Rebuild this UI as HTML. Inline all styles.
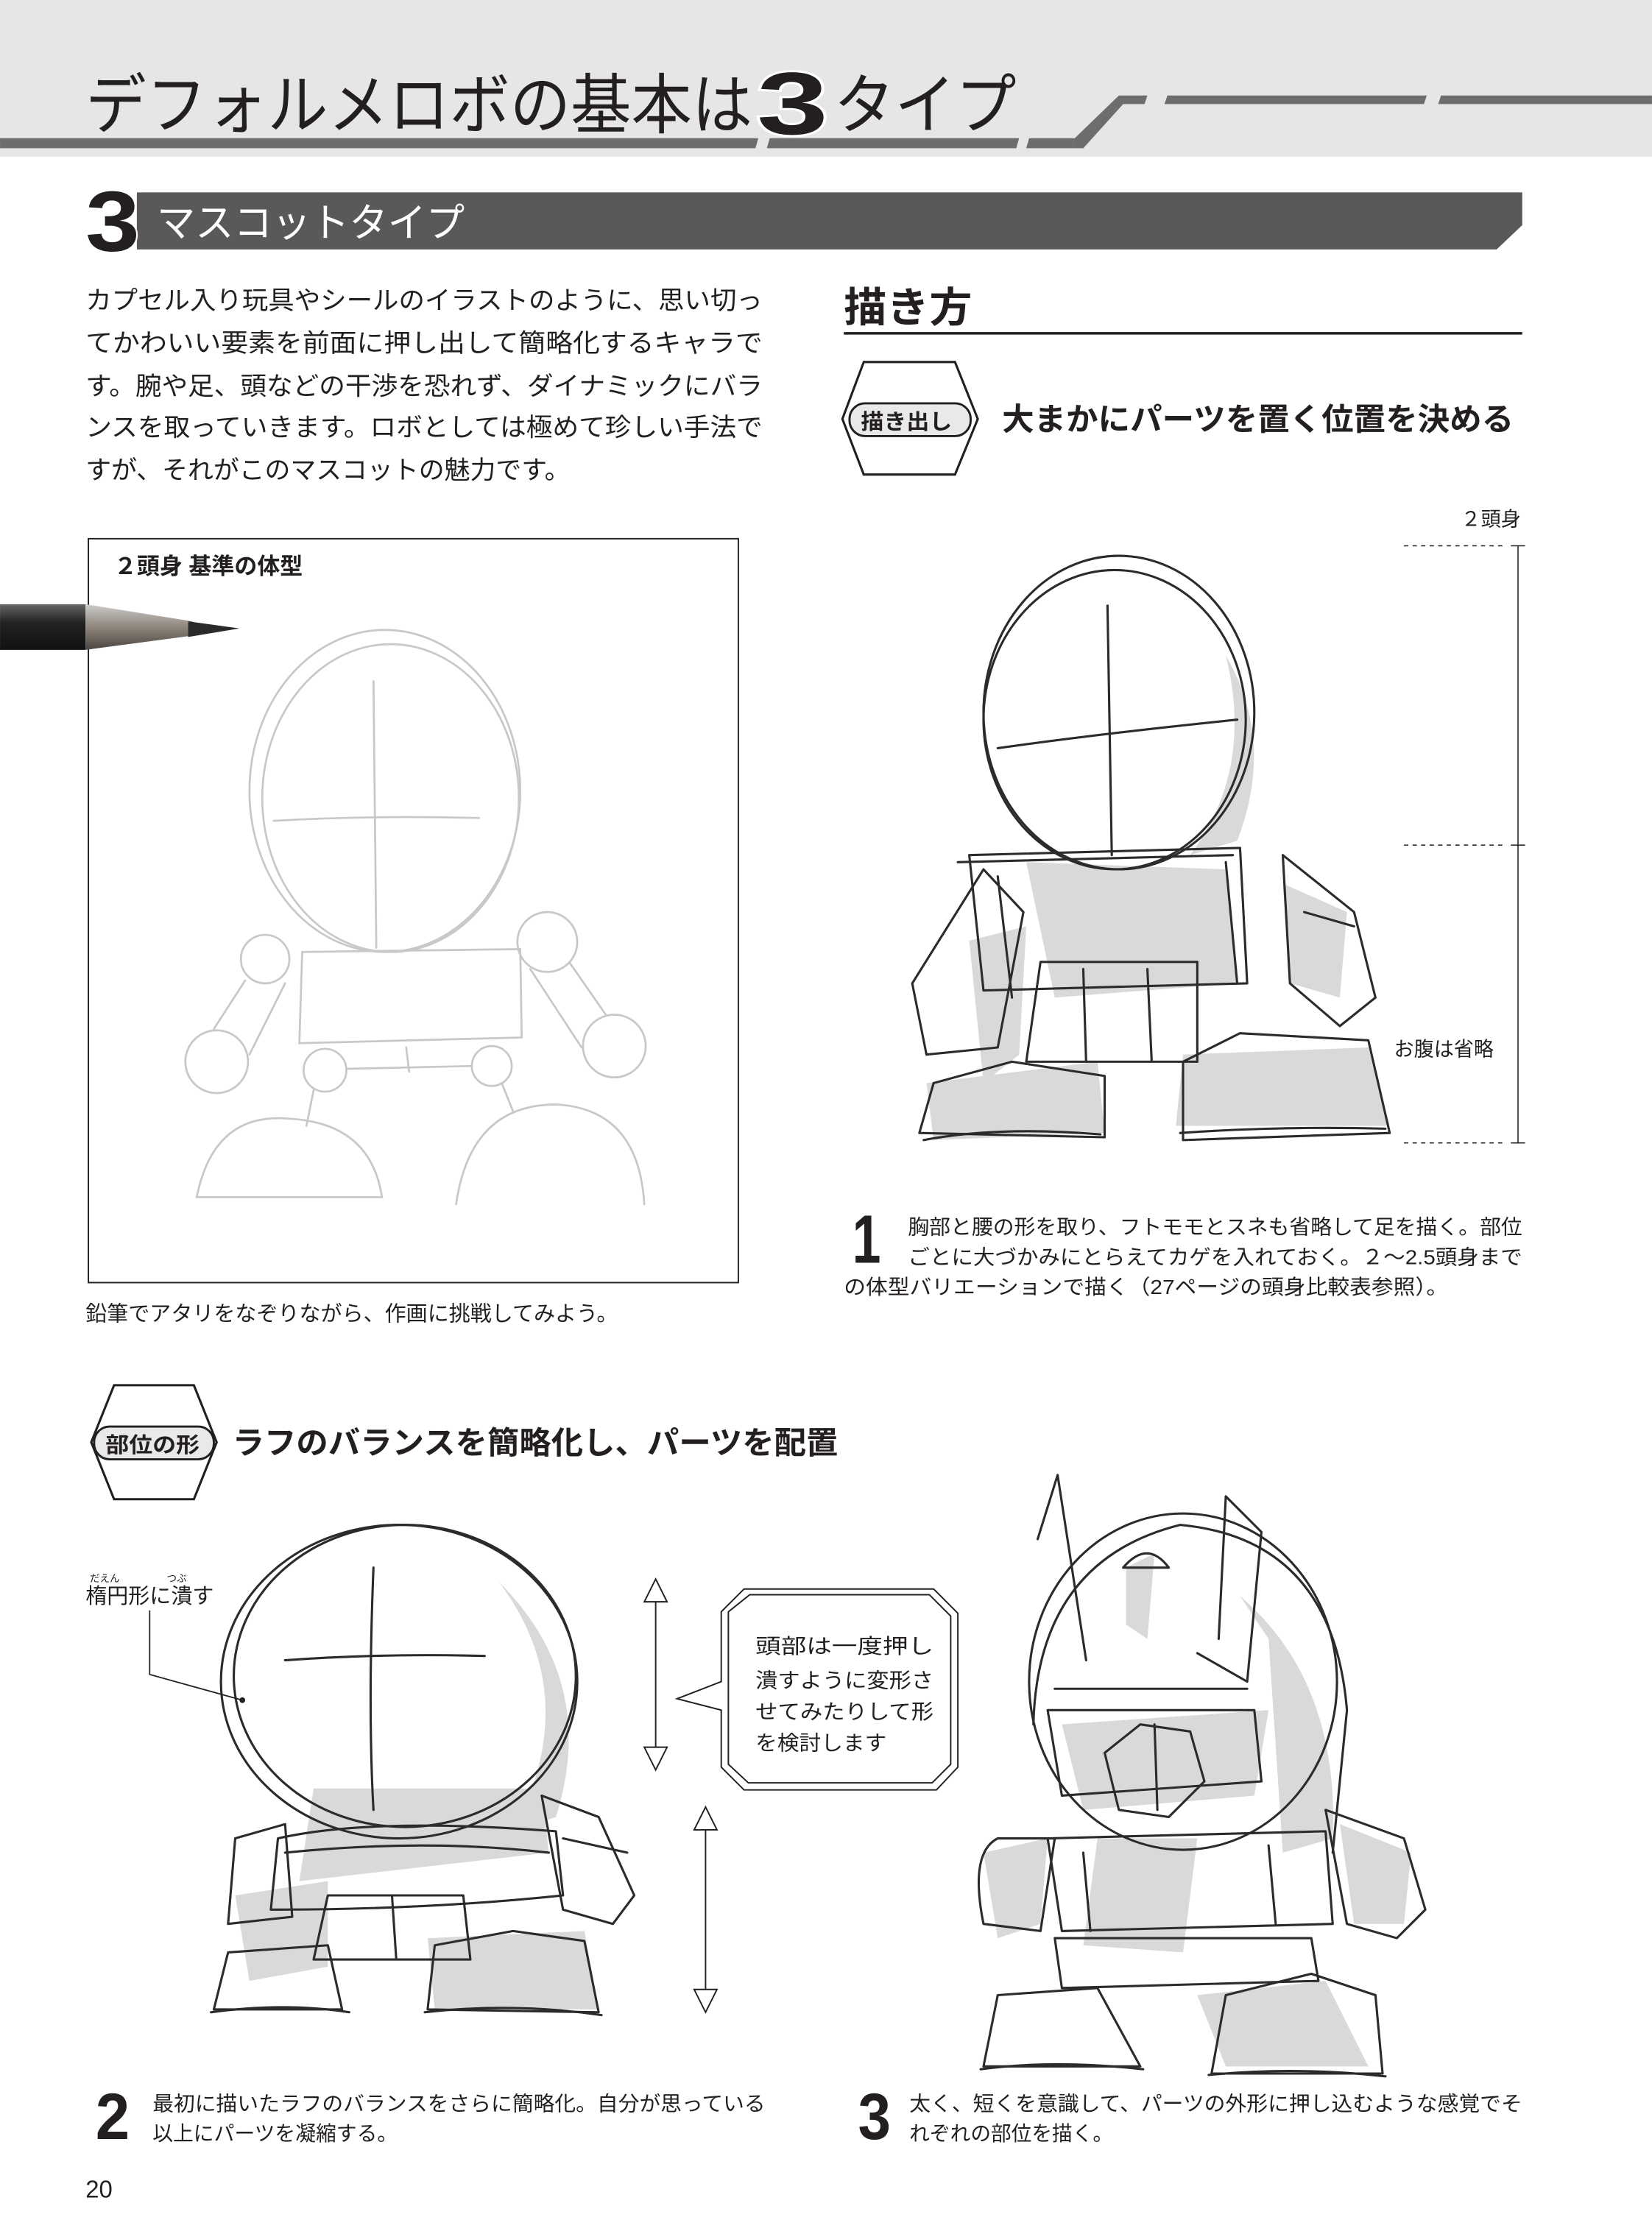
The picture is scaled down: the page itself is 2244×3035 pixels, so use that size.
<!DOCTYPE html>
<html><head><meta charset="utf-8"><style>
html,body{margin:0;padding:0;background:#fff;}
svg{display:block;}
text{font-family:"Liberation Sans","Noto Sans CJK JP",sans-serif;fill:#231f20;}
.sk{fill:none;stroke:#2b2b2b;stroke-width:1.6;stroke-linecap:round;stroke-linejoin:round;}
.lt{fill:none;stroke:#c8c8c8;stroke-width:1.4;stroke-linecap:round;}
.gr{fill:#d9d9d9;stroke:none;}
</style></head><body>
<svg width="2244" height="3035" viewBox="0 0 1159 1567.6" xmlns="http://www.w3.org/2000/svg">
<defs>
<linearGradient id="pb" x1="0" y1="0" x2="0" y2="1"><stop offset="0" stop-color="#666"/><stop offset="0.4" stop-color="#222"/><stop offset="1" stop-color="#111"/></linearGradient>
<linearGradient id="pw" x1="0" y1="0" x2="0" y2="1"><stop offset="0" stop-color="#ccc"/><stop offset="0.5" stop-color="#8f867c"/><stop offset="1" stop-color="#4a4440"/></linearGradient>
</defs>
<!-- header -->
<rect x="0" y="0" width="1159" height="110" fill="#e6e6e7"/>
<polygon points="0,97 532,97 530,104 0,104" fill="#6d6d6d"/>
<polygon points="540,97 715,97 713,104 538,104" fill="#6d6d6d"/>
<polygon points="722,97 754,97 752,104 720,104" fill="#6d6d6d"/>
<polygon points="754,97 785,67 805,67 803,73 788,73 760,104 752,104" fill="#6d6d6d"/>
<polygon points="819,67 1001,67 999,73 817,73" fill="#6d6d6d"/>
<polygon points="1011,67 1159,67 1159,73 1009,73" fill="#6d6d6d"/>
<text x="60" y="90" font-size="46" textLength="468" lengthAdjust="spacingAndGlyphs">デフォルメロボの基本は</text>
<text x="531" y="94" font-size="62" font-weight="bold" textLength="50" lengthAdjust="spacingAndGlyphs" stroke="#fff" stroke-width="3" paint-order="stroke">3</text>
<text x="585" y="90" font-size="46" textLength="128" lengthAdjust="spacingAndGlyphs">タイプ</text>
<!-- section bar -->
<polygon points="96,135 1068,135 1068,158 1050,175 96,175" fill="#5a5858"/>
<text x="60" y="176" font-size="60" font-weight="bold" textLength="38" lengthAdjust="spacingAndGlyphs" stroke="#fff" stroke-width="2" paint-order="stroke">3</text>
<text x="110" y="166" font-size="28" style="fill:#fff" textLength="216" lengthAdjust="spacingAndGlyphs">マスコットタイプ</text>
<!-- paragraph -->
<g font-size="18">
<text x="60" y="217" textLength="475" lengthAdjust="spacingAndGlyphs">カプセル入り玩具やシールのイラストのように、思い切っ</text>
<text x="60" y="247" textLength="475" lengthAdjust="spacingAndGlyphs">てかわいい要素を前面に押し出して簡略化するキャラで</text>
<text x="60" y="277" textLength="475" lengthAdjust="spacingAndGlyphs">す。腕や足、頭などの干渉を恐れず、ダイナミックにバラ</text>
<text x="60" y="306" textLength="475" lengthAdjust="spacingAndGlyphs">ンスを取っていきます。ロボとしては極めて珍しい手法で</text>
<text x="60" y="336" textLength="340" lengthAdjust="spacingAndGlyphs">すが、それがこのマスコットの魅力です。</text>
</g>
<!-- 描き方 -->
<text x="592" y="226" font-size="29" font-weight="bold" textLength="90" lengthAdjust="spacingAndGlyphs">描き方</text>
<rect x="592" y="233" width="476" height="1.8" fill="#231f20"/>
<!-- hex badge 1 -->
<polygon points="606,254 670,254 686,294 670,333 606,333 591,294" fill="#fff" stroke="#231f20" stroke-width="1.6"/>
<rect x="596" y="283" width="85" height="23" rx="11" fill="#e9e9e9" stroke="#231f20" stroke-width="1.5"/>
<text x="604" y="301" font-size="15" font-weight="bold" textLength="64" lengthAdjust="spacingAndGlyphs">描き出し</text>
<text x="703" y="302" font-size="22" font-weight="bold" textLength="359" lengthAdjust="spacingAndGlyphs">大まかにパーツを置く位置を決める</text>
<!-- box -->
<rect x="62" y="378" width="456" height="522" fill="none" stroke="#231f20" stroke-width="1"/>
<text x="80" y="403" font-size="16" font-weight="bold">２頭身 基準の体型</text>
<!-- pencil -->
<polygon points="0,424 60,424 60,456 0,456" fill="url(#pb)"/>
<polygon points="60,424 135,436 135,446 60,456" fill="url(#pw)"/>
<polygon points="132,436 168,441 132,447" fill="#2a2a2a"/>
<!-- light sketch -->
<g class="lt">
<ellipse cx="270" cy="555" rx="95" ry="113"/>
<ellipse cx="274" cy="560" rx="90" ry="108"/>
<path d="M262 478 L264 665 M192 576 Q260 572 336 574"/>
<circle cx="186" cy="673" r="17"/><circle cx="384" cy="661" r="21"/>
<path d="M212 668 L365 666 L366 728 L210 732 Z"/>
<circle cx="152" cy="745" r="22"/><circle cx="431" cy="734" r="22"/>
<path d="M172 688 L150 722 M200 690 L175 740 M400 676 L425 712 M372 680 L408 735"/>
<circle cx="228" cy="751" r="15"/><circle cx="345" cy="748" r="14"/>
<path d="M243 750 L331 748 M285 735 L287 752"/>
<path d="M138 840 Q150 780 203 785 Q260 788 268 840 Z"/>
<path d="M320 845 Q330 775 390 775 Q448 778 452 845"/>
<path d="M220 765 L215 790 M352 760 L360 780"/>
</g>
<text x="60" y="927" font-size="15">鉛筆でアタリをなぞりながら、作画に挑戦してみよう。</text>
<!-- robot 1 -->
<g>
<path class="gr" d="M860 460 Q895 520 868 590 L835 600 Q880 540 860 460 Z"/>
<path class="gr" d="M720 605 L860 610 L868 690 L740 700 Z"/>
<path class="gr" d="M680 660 L720 650 L715 740 L690 760 Z"/>
<path class="gr" d="M650 760 L770 745 L775 795 L655 800 Z"/>
<path class="gr" d="M830 740 L960 735 L975 790 L825 790 Z"/>
<path class="gr" d="M900 620 L945 640 L940 700 L905 690 Z"/>
<g class="sk">
<ellipse cx="785" cy="500" rx="95" ry="110"/>
<ellipse cx="782" cy="505" rx="92" ry="105"/>
<path d="M777 425 L780 600 M700 525 Q770 515 868 505"/>
<path d="M680 600 L870 595 L875 690 L690 695 Z M672 605 L865 600 M700 615 L710 700 M860 605 L868 690"/>
<path d="M690 610 L640 690 L650 740 L700 735 L718 640 Z"/>
<path d="M900 600 L950 640 L965 700 L940 720 L905 690 Z M915 640 L950 650"/>
<path d="M730 675 L840 675 L840 745 L720 745 Z M760 680 L762 745 M805 680 L808 745"/>
<path d="M645 795 L655 760 L710 745 L775 755 L775 798 Z"/>
<path d="M830 800 L830 745 L870 725 L960 730 L975 795 Z"/>
<path d="M648 800 Q700 790 772 796 M828 795 Q900 790 972 792"/>
</g>
</g>
<g stroke="#231f20" stroke-width="0.8" fill="none">
<path d="M985 383 L1055 383 M985 593 L1055 593 M985 802 L1055 802" stroke-dasharray="3,3"/>
<path d="M1065 383 L1065 802 M1060 383 L1070 383 M1060 593 L1070 593 M1060 802 L1070 802"/>
</g>
<text x="1025" y="369" font-size="14">２頭身</text>
<text x="978" y="741" font-size="14">お腹は省略</text>
<!-- step 1 -->
<text x="598" y="886" font-size="48" font-weight="bold" textLength="20" lengthAdjust="spacingAndGlyphs">1</text>
<g font-size="14.5">
<text x="637" y="866" textLength="431" lengthAdjust="spacingAndGlyphs">胸部と腰の形を取り、フトモモとスネも省略して足を描く。部位</text>
<text x="637" y="887" textLength="431" lengthAdjust="spacingAndGlyphs">ごとに大づかみにとらえてカゲを入れておく。２～2.5頭身まで</text>
<text x="592" y="908" textLength="424" lengthAdjust="spacingAndGlyphs">の体型バリエーションで描く（27ページの頭身比較表参照）。</text>
</g>
<!-- hex badge 2 -->
<polygon points="80,972 136,972 152,1012 136,1052 80,1052 64,1012" fill="#fff" stroke="#231f20" stroke-width="1.6"/>
<rect x="66" y="1001" width="84" height="23" rx="11" fill="#e9e9e9" stroke="#231f20" stroke-width="1.5"/>
<text x="74" y="1019" font-size="15" font-weight="bold" textLength="66" lengthAdjust="spacingAndGlyphs">部位の形</text>
<text x="163" y="1020" font-size="22" font-weight="bold" textLength="425" lengthAdjust="spacingAndGlyphs">ラフのバランスを簡略化し、パーツを配置</text>
<!-- robot 2 -->
<g>
<path class="gr" d="M350 1110 Q420 1180 390 1275 L360 1285 Q410 1190 350 1110 Z"/>
<path class="gr" d="M220 1255 L380 1255 L385 1300 L210 1320 Z"/>
<path class="gr" d="M165 1330 L230 1320 L230 1380 L175 1390 Z"/>
<path class="gr" d="M300 1360 L410 1355 L420 1410 L305 1410 Z"/>
<g class="sk">
<ellipse cx="280" cy="1180" rx="125" ry="110"/>
<ellipse cx="284" cy="1176" rx="120" ry="106"/>
<path d="M262 1100 Q258 1200 262 1270 M200 1165 Q270 1160 340 1162"/>
<path d="M195 1290 Q260 1275 390 1285 L395 1330 Q300 1340 190 1340 Z M200 1300 Q300 1290 385 1300"/>
<path d="M165 1290 L200 1280 L205 1345 L160 1350 Z"/>
<path d="M380 1260 L420 1275 L445 1330 L430 1350 L395 1340 Z M395 1290 L440 1300"/>
<path d="M230 1330 L325 1330 L330 1375 L220 1375 Z M275 1330 L278 1375"/>
<path d="M150 1410 L160 1370 L230 1365 L240 1410 Z"/>
<path d="M300 1410 L305 1365 L360 1355 L410 1362 L420 1412 Z"/>
<path d="M148 1412 Q200 1405 245 1412 M298 1412 Q360 1405 422 1414"/>
</g>
</g>
<path d="M105 1130 L105 1175 L170 1193" fill="none" stroke="#231f20" stroke-width="0.9"/>
<circle cx="170" cy="1193" r="2" fill="#231f20"/>
<text x="60" y="1125" font-size="15">楕円形に潰す</text>
<text x="63" y="1110" font-size="7">だえん</text><text x="117" y="1110" font-size="7">つぶ</text>
<!-- arrows -->
<g fill="#fff" stroke="#231f20" stroke-width="1">
<path d="M460 1118 L460 1232" fill="none"/>
<polygon points="460,1108 452,1124 468,1124"/><polygon points="460,1242 452,1226 468,1226"/>
<path d="M495 1278 L495 1402" fill="none"/>
<polygon points="495,1268 487,1284 503,1284"/><polygon points="495,1412 487,1396 503,1396"/>
</g>
<!-- speech box -->
<g fill="#fff" stroke="#231f20" stroke-width="1">
<path d="M522 1115 L655 1115 L672 1132 L672 1240 L657 1256 L522 1256 L506 1240 L506 1200 L475 1192 L506 1180 L506 1131 Z"/>
<path d="M526 1119 L652 1119 L667 1134 L667 1238 L654 1251 L525 1251 L511 1238 L511 1131 Z" fill="none"/>
</g>
<g font-size="14.5">
<text x="530" y="1160" textLength="125" lengthAdjust="spacingAndGlyphs">頭部は一度押し</text>
<text x="530" y="1184" textLength="125" lengthAdjust="spacingAndGlyphs">潰すように変形さ</text>
<text x="530" y="1206" textLength="125" lengthAdjust="spacingAndGlyphs">せてみたりして形</text>
<text x="530" y="1228" textLength="92" lengthAdjust="spacingAndGlyphs">を検討します</text>
</g>
<!-- robot 3 -->
<g>
<path class="gr" d="M870 1120 Q940 1180 935 1290 L900 1300 L890 1150 Z"/>
<path class="gr" d="M790 1100 L810 1090 L805 1150 L790 1140 Z"/>
<path class="gr" d="M745 1210 L890 1200 L880 1260 L760 1270 Z"/>
<path class="gr" d="M770 1290 L840 1290 L830 1370 L760 1365 Z"/>
<path class="gr" d="M940 1280 L990 1300 L985 1350 L950 1350 Z"/>
<path class="gr" d="M840 1400 L930 1390 L960 1450 L860 1450 Z"/>
<path class="gr" d="M690 1300 L735 1290 L730 1350 L700 1360 Z"/>
<g class="sk">
<ellipse cx="830" cy="1180" rx="108" ry="118"/>
<path d="M725 1210 Q728 1095 828 1070 Q935 1080 945 1200 L935 1300"/>
<path d="M728 1080 L742 1035 L762 1165 M788 1100 Q805 1080 820 1100 Z"/>
<path d="M860 1050 L885 1075 L875 1180 L840 1160 M860 1050 L855 1150"/>
<path d="M735 1200 L880 1200 L885 1250 L745 1260 Z M740 1185 L875 1185"/>
<path d="M775 1230 L800 1210 L835 1215 L845 1250 L820 1275 L785 1270 Z M810 1210 L812 1270"/>
<path d="M700 1290 Q680 1300 690 1350 L730 1355 L740 1290 Z"/>
<path d="M930 1270 L985 1290 L1000 1340 L980 1360 L945 1350 Z"/>
<path d="M735 1290 L930 1285 L935 1350 L745 1355 Z M760 1300 L765 1355 M890 1295 L895 1350"/>
<path d="M740 1360 L920 1360 L925 1390 L745 1395 Z"/>
<path d="M690 1450 L700 1400 L770 1395 L800 1450 Z"/>
<path d="M850 1455 L860 1400 L920 1385 L965 1400 L970 1455 Z"/>
<path d="M688 1452 Q740 1445 802 1452 M848 1456 Q910 1450 972 1457"/>
</g>
</g>
<!-- step 2 / 3 -->
<text x="67" y="1501" font-size="46" font-weight="bold" textLength="24" lengthAdjust="spacingAndGlyphs">2</text>
<g font-size="14.5">
<text x="107" y="1481" textLength="430" lengthAdjust="spacingAndGlyphs">最初に描いたラフのバランスをさらに簡略化。自分が思っている</text>
<text x="107" y="1502" textLength="172" lengthAdjust="spacingAndGlyphs">以上にパーツを凝縮する。</text>
</g>
<text x="602" y="1501" font-size="46" font-weight="bold" textLength="23" lengthAdjust="spacingAndGlyphs">3</text>
<g font-size="14.5">
<text x="638" y="1481" textLength="430" lengthAdjust="spacingAndGlyphs">太く、短くを意識して、パーツの外形に押し込むような感覚でそ</text>
<text x="638" y="1502" textLength="143" lengthAdjust="spacingAndGlyphs">れぞれの部位を描く。</text>
</g>
<text x="60" y="1542" font-size="17">20</text>
</svg>
</body></html>
